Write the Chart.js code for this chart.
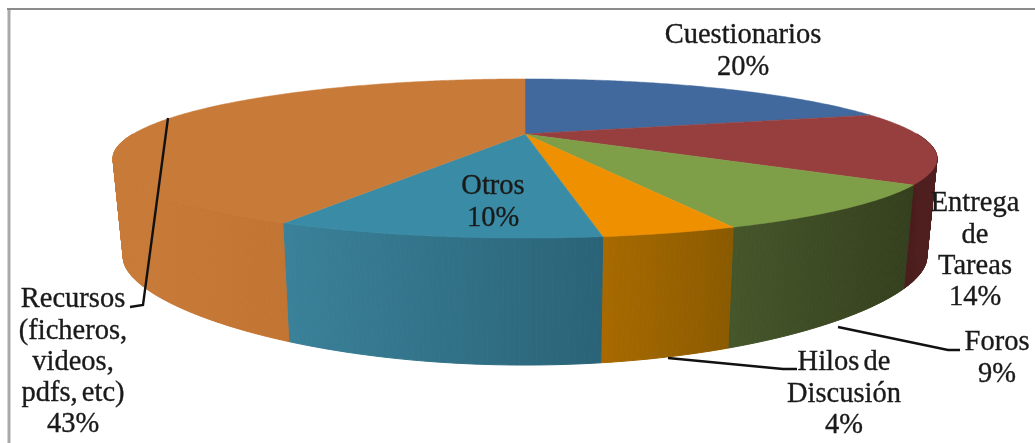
<!DOCTYPE html>
<html>
<head>
<meta charset="utf-8">
<style>
  html, body { margin: 0; background: #fff; }
  #wrap { position: relative; width: 1035px; height: 443px; }
  #chart { filter: blur(0.5px); }
</style>
<script src="https://cdn.jsdelivr.net/npm/chart.js@4"></script>
</head>
<body>
<div id="wrap"><canvas id="chart" width="1035" height="443"></canvas></div>
<script>
// slice sizes in %, labels show them rounded
const categories = ['Cuestionarios', 'Entrega de Tareas', 'Foros', 'Hilos de Discusión', 'Otros', 'Recursos (ficheros, videos, pdfs, etc)'];
const values = [20.4, 14.49, 8.91, 4.0, 9.55, 42.65];

const topColors = ['#41699d', '#973f3e', '#7f9e48', '#ee9000', '#3a8ca6', '#c87a38'];
const wallLeft = ['#2f4d74', '#4a1c1c', '#46562b', '#a86a00', '#3a8199', '#c87a38'];
const wallRight = ['#2f4d74', '#4f1e1e', '#343f1d', '#8a5a00', '#2a6377', '#c27532'];

// label placement: centre x, first line middle y, wrapped lines
const labelLines = [['Cuestionarios'], ['Entrega', 'de', 'Tareas'], ['Foros'], ['Hilos de', 'Discusión'], ['Otros'], ['Recursos', '(ficheros,', 'videos,', 'pdfs, etc)']];
const labelX = [743, 975, 997, 844, 493, 73];
const labelY = [36, 204, 343, 363, 187, 300];
const lineGap = 31.2;

const leaders = [
    [[168, 118], [143, 305], [130, 307]],
    [[668, 358], [783, 369], [797, 369]],
    [[838, 327], [948, 350], [960, 350]]
];

// perspective of the disc
const cx = 525, topY = 134, topA = 72, topB = 392, persp = 0.308, bottomScale = 0.975;

function project(angle) {
    const u = Math.cos(angle), v = Math.sin(angle);
    const f = 1 / (1 - persp * v);
    return { x: cx + topB * u * f, y: topY + topA * v * f };
}

function projectBottom(angle) {
    const p = project(angle);
    const v = Math.max(Math.sin(angle), 0);
    return { x: cx + (p.x - cx) * bottomScale, y: p.y + 98 + 29 * v * v * v };
}

const pie3d = {
    id: 'pie3d',
    beforeDatasetsDraw(chart) {
        const ctx = chart.ctx;
        const arcs = chart.getDatasetMeta(0).data;

        // walls, only the front half of the disc shows
        let quads = [];
        arcs.forEach((arc, i) => {
            const from = Math.max(arc.startAngle, 0);
            const to = Math.min(arc.endAngle, Math.PI);
            if (to <= from) return;
            const xa = project(from).x, xb = project(to).x;
            const grad = ctx.createLinearGradient(Math.min(xa, xb), 0, Math.max(xa, xb), 0);
            grad.addColorStop(0, wallLeft[i]);
            grad.addColorStop(1, wallRight[i]);
            const steps = Math.ceil((to - from) / 0.01);
            for (let s = 0; s < steps; s++) {
                const a0 = from + (to - from) * s / steps;
                const a1 = from + (to - from) * (s + 1) / steps;
                quads.push({ order: Math.sin(a0), color: grad, pts: [project(a0), project(a1), projectBottom(a1), projectBottom(a0)] });
            }
        });
        quads.sort((a, b) => a.order - b.order);
        quads.forEach(q => {
            ctx.beginPath();
            q.pts.forEach((p, k) => k ? ctx.lineTo(p.x, p.y) : ctx.moveTo(p.x, p.y));
            ctx.closePath();
            ctx.fillStyle = q.color;
            ctx.strokeStyle = q.color;
            ctx.lineWidth = 1;
            ctx.fill();
            ctx.stroke();
        });

        // top surface
        arcs.forEach((arc, i) => {
            ctx.beginPath();
            ctx.moveTo(cx, topY);
            for (let a = arc.startAngle; a < arc.endAngle; a += 0.01) {
                const p = project(a);
                ctx.lineTo(p.x, p.y);
            }
            const end = project(arc.endAngle);
            ctx.lineTo(end.x, end.y);
            ctx.closePath();
            ctx.fillStyle = topColors[i];
            ctx.strokeStyle = topColors[i];
            ctx.lineWidth = 0.5;
            ctx.fill();
            ctx.stroke();
        });
        return false;
    },
    afterDraw(chart) {
        const ctx = chart.ctx;

        // frame
        ctx.strokeStyle = '#a9a9a9';
        ctx.lineWidth = 3;
        ctx.beginPath();
        ctx.moveTo(9, 443);
        ctx.lineTo(9, 8);
        ctx.stroke();
        ctx.strokeStyle = '#8c8c8c';
        ctx.lineWidth = 2;
        ctx.beginPath();
        ctx.moveTo(7, 9);
        ctx.lineTo(1035, 9);
        ctx.stroke();

        ctx.strokeStyle = '#111';
        ctx.lineWidth = 2.4;
        leaders.forEach(l => {
            ctx.beginPath();
            l.forEach((p, k) => k ? ctx.lineTo(p[0], p[1]) : ctx.moveTo(p[0], p[1]));
            ctx.stroke();
        });

        ctx.fillStyle = '#1a1a1a';
        ctx.strokeStyle = '#1a1a1a';
        ctx.lineWidth = 0.35;
        ctx.font = '28.5px "Liberation Serif"';
        ctx.wordSpacing = '-3px';
        ctx.textAlign = 'center';
        ctx.textBaseline = 'middle';
        categories.forEach((c, i) => {
            const lines = labelLines[i].concat(Math.round(values[i]) + '%');
            lines.forEach((t, k) => {
                ctx.fillText(t, labelX[i], labelY[i] + k * lineGap);
                ctx.strokeText(t, labelX[i], labelY[i] + k * lineGap);
            });
        });
    }
};

new Chart(document.getElementById('chart'), {
    type: 'pie',
    data: {
        labels: categories,
        datasets: [{ data: values, backgroundColor: topColors, borderWidth: 0 }]
    },
    options: {
        responsive: false,
        animation: false,
        plugins: { legend: { display: false }, tooltip: { enabled: false } }
    },
    plugins: [pie3d]
});
</script>
</body>
</html>
